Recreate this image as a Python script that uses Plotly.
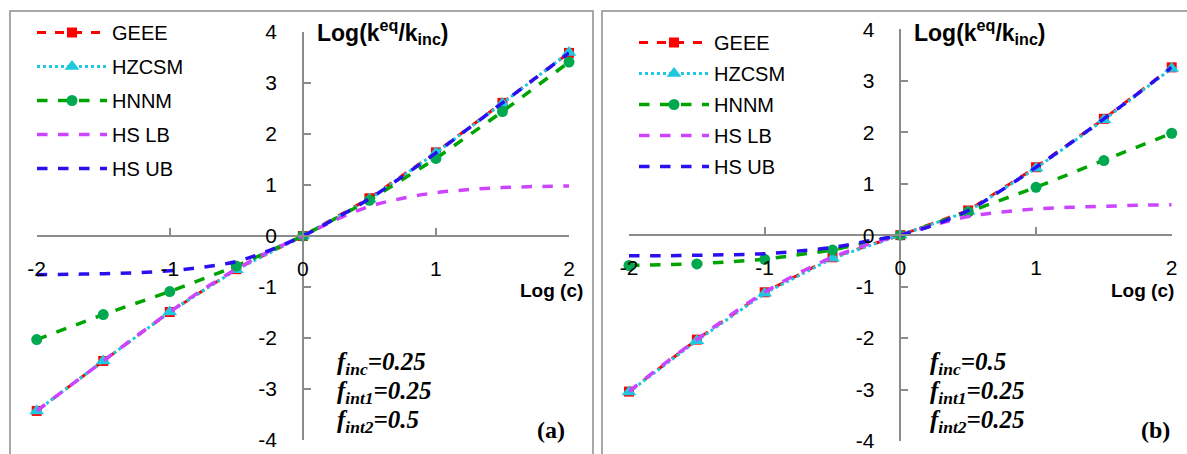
import plotly.graph_objects as go

# ---------------- data ----------------
x_pts = [-2, -1.5, -1, -0.5, 0, 0.5, 1, 1.5, 2]
x_hs = [-2, -1.75, -1.5, -1.25, -1, -0.75, -0.5, -0.25, 0,
        0.25, 0.5, 0.75, 1, 1.25, 1.5, 1.75, 2]

# panel (a)  f_inc=0.25, f_int1=0.25, f_int2=0.5
geee_a = [-3.43, -2.45, -1.49, -0.65, 0, 0.74, 1.64, 2.61, 3.59]
hzcsm_a = [-3.43, -2.45, -1.49, -0.66, 0, 0.72, 1.63, 2.60, 3.60]
hnnm_a = [-2.03, -1.54, -1.09, -0.59, 0, 0.70, 1.52, 2.44, 3.41]
hslb_a = [-3.43, -2.94, -2.45, -1.96, -1.49, -1.05, -0.65, -0.30, 0,
          0.32, 0.58, 0.74, 0.85, 0.91, 0.95, 0.97, 0.98]
hsub_a = [-0.76, -0.75, -0.74, -0.72, -0.68, -0.61, -0.50, -0.28, 0,
          0.35, 0.73, 1.17, 1.63, 2.12, 2.61, 3.10, 3.59]

# panel (b)  f_inc=0.5, f_int1=0.25, f_int2=0.25
geee_b = [-3.04, -2.03, -1.11, -0.43, 0, 0.48, 1.32, 2.26, 3.26]
hzcsm_b = [-3.05, -2.05, -1.13, -0.45, 0, 0.46, 1.30, 2.24, 3.24]
hnnm_b = [-0.59, -0.56, -0.47, -0.29, 0, 0.45, 0.93, 1.45, 1.98]
hslb_b = [-3.04, -2.52, -2.03, -1.55, -1.11, -0.74, -0.43, -0.19, 0,
          0.20, 0.36, 0.45, 0.51, 0.54, 0.56, 0.58, 0.59]
hsub_b = [-0.40, -0.40, -0.39, -0.38, -0.36, -0.31, -0.24, -0.12, 0,
          0.20, 0.48, 0.88, 1.32, 1.78, 2.26, 2.75, 3.26]

series_names = ["GEEE", "HZCSM", "HNNM", "HS LB", "HS UB"]
x_ticks = [-2, -1, 0, 1, 2]
x_ticktext = ["-2", "-1", "0", "1", "2"]
y_ticks = [-4, -3, -2, -1, 0, 1, 2, 3, 4]
y_ticktext = ["-4", "-3", "-2", "-1", "0", "1", "2", "3", "4"]
notes_a = ["f<sub>inc</sub>=0.25", "f<sub>int1</sub>=0.25", "f<sub>int2</sub>=0.5"]
notes_b = ["f<sub>inc</sub>=0.5", "f<sub>int1</sub>=0.25", "f<sub>int2</sub>=0.25"]

# ---------------- layout helpers ----------------
W, H = 1187, 454
def fx(p):
    return p / W
def fy(p):
    return 1 - p / H

SANS = "Liberation Sans"
SERIF = "Liberation Serif"
AXC = "#8c8c8c"

panels = [
    dict(xd=(36.7, 569.0), yd=(32.0, 440.0), data=(geee_a, hzcsm_a, hnnm_a, hslb_a, hsub_a),
         notes=notes_a, tag="(a)", frame=(10, 593), legend="legend",
         legpos=(32, 13), gap=5, tagx=551, notex=335, logc_right=585),
    dict(xd=(629.0, 1171.7), yd=(29.3, 441.0), data=(geee_b, hzcsm_b, hnnm_b, hslb_b, hsub_b),
         notes=notes_b, tag="(b)", frame=(602, 1200), legend="legend2",
         legpos=(634, 23), gap=2, tagx=1155, notex=928, logc_right=1176),
]

styles = [
    dict(mode="lines+markers", line=dict(color="#FF0000", width=3, dash="dash"),
         marker=dict(symbol="square", size=10, color="#FF0000")),
    dict(mode="lines+markers", line=dict(color="#1EC8DE", width=3, dash="dot"),
         marker=dict(symbol="triangle-up", size=13, color="#1EC8DE")),
    dict(mode="lines+markers", line=dict(color="#00A400", width=3.5, dash="dash"),
         marker=dict(symbol="circle", size=11, color="#00A84F")),
    dict(mode="lines", line=dict(color="#CC44FF", width=3.5, dash="dash", shape="spline")),
    dict(mode="lines", line=dict(color="#2A10F0", width=3.5, dash="dash", shape="spline")),
]

fig = go.Figure()
layout = dict(
    width=W, height=H, autosize=False,
    margin=dict(l=0, r=0, t=0, b=0, pad=0, autoexpand=False),
    paper_bgcolor="white", plot_bgcolor="rgba(0,0,0,0)",
    font=dict(family=SANS, size=20, color="black"),
    showlegend=True,
)
annotations = []
shapes = []

for i, p in enumerate(panels):
    n = "" if i == 0 else str(i + 1)
    xa, ya = "x" + n, "y" + n
    xd = [fx(p["xd"][0]), fx(p["xd"][1])]
    yd = [fy(p["yd"][1]), fy(p["yd"][0])]
    for k, (name, st, vals) in enumerate(zip(series_names, styles, p["data"])):
        xs = x_hs if k >= 3 else x_pts
        fig.add_trace(go.Scatter(
            x=xs, y=vals, name=name, xaxis=xa, yaxis=ya,
            legend=p["legend"], legendgroup=f"{p['legend']}_{k}",
            cliponaxis=False, **st))
    common = dict(showgrid=False, zeroline=False, showline=True, linecolor=AXC, linewidth=1.5,
                  ticks="inside", ticklen=7, tickwidth=1.5, tickcolor=AXC,
                  tickfont=dict(family=SANS, size=21, color="black"),
                  anchor="free", fixedrange=True, automargin=False)
    layout["xaxis" + n] = dict(domain=xd, range=[-2, 2], tickvals=x_ticks, ticktext=x_ticktext,
                               position=(yd[0] + yd[1]) / 2, ticklabelstandoff=14, **common)
    layout["yaxis" + n] = dict(domain=yd, range=[-4, 4], tickvals=y_ticks, ticktext=y_ticktext,
                               position=(xd[0] + xd[1]) / 2, ticklabelstandoff=21, **common)
    layout[p["legend"]] = dict(
        x=fx(p["legpos"][0]), y=fy(p["legpos"][1]), xanchor="left", yanchor="top",
        font=dict(family=SANS, size=20, color="black"), bgcolor="rgba(0,0,0,0)",
        tracegroupgap=p["gap"], itemwidth=70, traceorder="grouped")
    # axis titles
    xm = (xd[0] + xd[1]) / 2
    annotations.append(dict(xref="paper", yref="paper", x=xm + fx(12), y=fy(32),
                            xanchor="left", yanchor="middle", showarrow=False,
                            text="<b>Log(k<sup>eq</sup>/k<sub>inc</sub>)</b>",
                            font=dict(family=SANS, size=23, color="black")))
    annotations.append(dict(xref="paper", yref="paper", x=fx(p["logc_right"]), y=fy(290),
                            xanchor="right", yanchor="middle", showarrow=False,
                            text="<b>Log (c)</b>", font=dict(family=SANS, size=19, color="black")))
    for j, t in enumerate(p["notes"]):
        annotations.append(dict(xref="paper", yref="paper", x=fx(p["notex"]), y=fy(363 + 29 * j),
                                xanchor="left", yanchor="middle", showarrow=False,
                                text="<b><i>" + t + "</i></b>",
                                font=dict(family=SERIF, size=25, color="black")))
    annotations.append(dict(xref="paper", yref="paper", x=fx(p["tagx"]), y=fy(430),
                            xanchor="center", yanchor="middle", showarrow=False,
                            text="<b>" + p["tag"] + "</b>",
                            font=dict(family=SERIF, size=24, color="black")))
    shapes.append(dict(type="rect", xref="paper", yref="paper",
                       x0=fx(p["frame"][0]), x1=fx(p["frame"][1]), y0=-0.2, y1=fy(11),
                       line=dict(color=AXC, width=1.5), layer="below"))

layout["annotations"] = annotations
layout["shapes"] = shapes
fig.update_layout(**layout)
fig.write_html("out.html", config={"displayModeBar": False},
               post_script="document.body.style.margin='0px';document.body.style.overflow='hidden';")
